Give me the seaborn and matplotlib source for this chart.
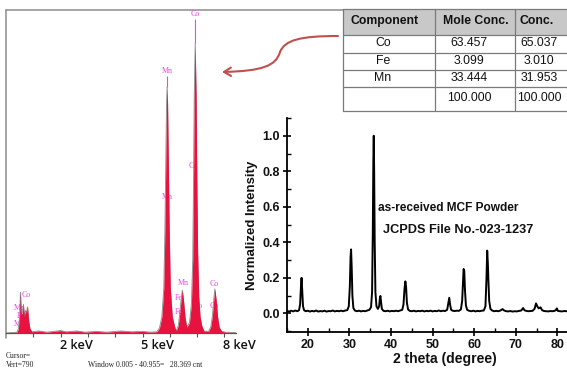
import matplotlib
matplotlib.use("Agg")
import matplotlib.pyplot as plt
import matplotlib.transforms as mtransforms
from matplotlib.path import Path
from matplotlib.patches import FancyArrowPatch, Rectangle
from matplotlib.ticker import MultipleLocator
import seaborn as sns

sns.set_theme(style="white")
plt.rcParams['font.family'] = ['Liberation Sans', 'DejaVu Sans']

# ---------------- EDS spectrum (energy in keV, counts) ----------------
eds_kev = [0.00, 0.40, 0.45, 0.50, 0.53, 0.56, 0.60, 0.64, 0.67, 0.71, 0.75, 0.79, 0.83, 0.88, 0.95,
           1.20, 1.50, 2.00, 2.20, 2.60, 2.90, 3.30, 3.70, 4.20, 4.60, 5.00, 5.30,
           5.52, 5.62, 5.71, 5.78, 5.82, 5.855, 5.88, 5.90, 5.92, 5.945, 5.98, 6.02, 6.09, 6.19,
           6.24, 6.31, 6.36, 6.41, 6.46, 6.51, 6.56, 6.62,
           6.72, 6.79, 6.84, 6.87, 6.895, 6.93, 6.965, 6.99, 7.02, 7.06, 7.11, 7.17, 7.25,
           7.42, 7.50, 7.56, 7.61, 7.65, 7.70, 7.75, 7.81, 7.90, 8.05, 8.42]
eds_cnt = [0, 2, 10, 40, 100, 45, 50, 70, 40, 55, 50, 64, 30, 10, 3,
           5, 2, 6, 3, 5, 2, 4, 2, 5, 3, 4, 2,
           3, 12, 40, 110, 250, 430, 560, 602, 560, 430, 250, 110, 40, 12,
           6, 18, 45, 80, 105, 75, 38, 14,
           25, 70, 180, 380, 580, 709, 580, 380, 200, 90, 40, 18, 5,
           4, 15, 42, 82, 108, 80, 40, 14, 4, 2, 1]

# element markers: text, energy, count level of the label
eds_mark_text = ["Co", "Mn", "Co", "Mn", "Mn", "Fe", "Fe", "Co", "Co", "Co", "Fe", "Co", "Mn", "Fe", "Mn"]
eds_mark_kev = [6.93, 5.90, 6.87, 5.90, 6.50, 6.32, 6.32, 7.62, 7.62, 7.03, 7.03, 0.76, 0.47, 0.53, 0.47]
eds_mark_cnt = [780, 641, 408, 333, 122, 86, 51, 120, 66, 66, 27, 93, 61, 42, 22]
# marker stems joining a label to its peak top: energy, lower count, upper count
stem_kev = [6.93, 5.90, 0.53]
stem_low = [709, 602, 0]
stem_high = [768, 628, 100]

eds_tick_kev = [2, 5, 8]
cursor_lines = ["Cursor=", "Vert=790"]
window_text = "Window 0.005 - 40.955=   28.369 cnt"

# ---------------- Composition table ----------------
table_header = ["Component", "Mole Conc.", "Conc."]
components = ["Co", "Fe", "Mn", ""]
mole_conc = ["63.457", "3.099", "33.444", "100.000"]
conc = ["65.037", "3.010", "31.953", "100.000"]

# ---------------- XRD pattern ----------------
xrd_two_theta = [15.0, 15.5, 16.0, 16.5, 17.0, 17.5, 17.9, 18.15, 18.35, 18.5, 18.65, 18.85, 19.1, 19.5,
                 20.0, 20.5, 21.0, 21.5, 22.0, 22.5, 23.0, 23.5, 24.0, 24.5, 25.0, 25.5, 26.0, 26.5,
                 27.0, 27.5, 28.0, 28.5, 29.0, 29.5, 29.85, 30.1, 30.28, 30.4, 30.55, 30.72, 30.95,
                 31.3, 31.8, 32.3, 32.8, 33.3, 33.8, 34.3, 34.8, 35.2, 35.45, 35.62, 35.75, 35.85,
                 35.95, 36.08, 36.25, 36.5, 36.85, 37.15, 37.32, 37.45, 37.58, 37.8, 38.2, 38.7,
                 39.2, 39.7, 40.2, 40.7, 41.2, 41.7, 42.2, 42.7, 43.0, 43.25, 43.45, 43.62, 43.82,
                 44.1, 44.5, 45.0, 45.5, 46.0, 46.5, 47.0, 47.5, 48.0, 48.5, 49.0, 49.5, 50.0, 50.5,
                 51.0, 51.5, 52.0, 52.5, 53.0, 53.5, 53.8, 54.0, 54.2, 54.45, 54.8, 55.3, 55.8, 56.3,
                 56.8, 57.1, 57.3, 57.45, 57.6, 57.78, 58.0, 58.3, 58.8, 59.3, 59.8, 60.3, 60.8,
                 61.3, 61.8, 62.3, 62.7, 62.95, 63.12, 63.28, 63.4, 63.6, 63.9, 64.3, 64.8, 65.3,
                 65.8, 66.3, 66.8, 67.2, 67.7, 68.2, 68.7, 69.2, 69.7, 70.2, 70.7, 71.3, 71.75,
                 72.1, 72.5, 73.0, 73.5, 74.0, 74.5, 74.85, 75.15, 75.5, 75.95, 76.3, 76.8, 77.3,
                 77.8, 78.3, 78.8, 79.3, 79.6, 79.85, 80.1, 80.6, 81.1, 81.6, 82.3]
xrd_intensity = [0.014, 0.010, 0.015, 0.011, 0.016, 0.012, 0.018, 0.05, 0.15, 0.20, 0.13, 0.04, 0.018, 0.012,
                 0.015, 0.010, 0.014, 0.011, 0.016, 0.010, 0.013, 0.011, 0.015, 0.010, 0.013, 0.012, 0.016, 0.011,
                 0.014, 0.012, 0.015, 0.012, 0.016, 0.018, 0.04, 0.15, 0.32, 0.36, 0.26, 0.10, 0.03,
                 0.016, 0.012, 0.015, 0.011, 0.014, 0.012, 0.016, 0.020, 0.035, 0.12, 0.45, 0.85, 1.00,
                 0.80, 0.40, 0.12, 0.04, 0.025, 0.04, 0.085, 0.098, 0.07, 0.025, 0.014, 0.012,
                 0.015, 0.011, 0.014, 0.012, 0.015, 0.012, 0.016, 0.020, 0.05, 0.14, 0.18, 0.15, 0.06,
                 0.022, 0.014, 0.012, 0.015, 0.011, 0.014, 0.012, 0.015, 0.011, 0.014, 0.012, 0.015, 0.011, 0.014,
                 0.012, 0.016, 0.012, 0.015, 0.013, 0.020, 0.06, 0.088, 0.05, 0.020, 0.015, 0.013, 0.015, 0.014,
                 0.022, 0.07, 0.18, 0.25, 0.24, 0.13, 0.045, 0.020, 0.014, 0.012, 0.015, 0.011, 0.014,
                 0.012, 0.015, 0.016, 0.04, 0.20, 0.353, 0.28, 0.19, 0.07, 0.025, 0.016, 0.012, 0.014,
                 0.012, 0.016, 0.024, 0.016, 0.012, 0.011, 0.013, 0.010, 0.012, 0.011, 0.013, 0.016, 0.03,
                 0.017, 0.014, 0.012, 0.013, 0.014, 0.025, 0.056, 0.04, 0.028, 0.034, 0.018, 0.013, 0.012,
                 0.011, 0.013, 0.012, 0.014, 0.018, 0.028, 0.014, 0.012, 0.011, 0.013, 0.012]
xrd_xticks = [20, 30, 40, 50, 60, 70, 80]
xrd_yticks = [0.0, 0.2, 0.4, 0.6, 0.8, 1.0]

# ---------------- Figure ----------------
W, H = 567, 370
fig = plt.figure(figsize=(W / 100, H / 100), dpi=100)
fig.patch.set_facecolor("white")


def px_box(left, top, right, bottom):
    return [left / W, 1 - bottom / H, (right - left) / W, (bottom - top) / H]


# pixel-space layer for frames, table and arrow
overlay = fig.add_axes([0, 0, 1, 1], zorder=0)
overlay.set_xlim(0, W)
overlay.set_ylim(H, 0)
overlay.axis("off")

# ---- EDS panel ----
KEV_PX = 27.3
ax_eds = fig.add_axes(px_box(6, 10, 236, 333), zorder=1)
ax_eds.patch.set_alpha(0)
ax_eds.set_xlim(0, 230 / KEV_PX)
ax_eds.set_ylim(0, 790)
magenta = "#ee44ee"
for txt, e, c in zip(eds_mark_text, eds_mark_kev, eds_mark_cnt):
    ax_eds.text(e, c, txt, color=magenta, fontsize=5.8, family="Liberation Serif",
                ha="center", va="center", zorder=2)
ax_eds.vlines(stem_kev, stem_low, stem_high, color=magenta, lw=0.8, zorder=2)
sns.lineplot(x=eds_kev, y=eds_cnt, ax=ax_eds, color="#8a8a8a", lw=0.6,
             estimator=None, sort=False, zorder=3)
ax_eds.fill_between(eds_kev, eds_cnt, color="#e8123f", lw=0, zorder=4)
for s in ["top", "right", "left"]:
    ax_eds.spines[s].set_visible(False)
ax_eds.spines["bottom"].set_color("#555555")
ax_eds.spines["bottom"].set_linewidth(0.9)
ax_eds.set_xticks(range(1, 9))
ax_eds.set_yticks([])
ax_eds.tick_params(axis="x", direction="out", length=3, width=0.8, color="#555555",
                   labelbottom=False, bottom=True)
blend = mtransforms.blended_transform_factory(ax_eds.transData, ax_eds.transAxes)
for v in eds_tick_kev:
    ax_eds.text(v - 0.04, -0.040, f"{v} keV", transform=blend, ha="left", va="center",
                family="Open Sans", fontweight="semibold", fontsize=9.2, color="#111111")

overlay.plot([6, 343], [10, 10], color="#8c8c8c", lw=1.1)
overlay.plot([6, 6], [10, 338], color="#8c8c8c", lw=1.1)
overlay.text(6, 356, cursor_lines[0], fontsize=5.5, family="Liberation Serif", va="center", color="#222222")
overlay.text(6, 365, cursor_lines[1], fontsize=5.5, family="Liberation Serif", va="center", color="#222222")
overlay.text(88, 365, window_text, fontsize=5.5, family="Liberation Serif", va="center", color="#222222")

# ---- composition table ----
col_x = [343, 435, 515, 600]
row_y = [9, 35, 52.5, 69.5, 87, 111]
overlay.add_patch(Rectangle((col_x[0], row_y[0]), col_x[-1] - col_x[0], row_y[1] - row_y[0],
                            facecolor="#c8c8c8", edgecolor="none"))
for y in row_y:
    overlay.plot([col_x[0], col_x[-1]], [y, y], color="#7a7a7a", lw=0.9)
for x in col_x[:3]:
    overlay.plot([x, x], [row_y[0], row_y[-1]], color="#7a7a7a", lw=0.9)
head_cx = [385, 476, 537]
val_cx = [383, 469, 539]
for cx, txt in zip(head_cx, table_header):
    overlay.text(cx, 21, txt, ha="center", va="center", fontsize=8.8, fontweight="bold", color="#111111")
row_cy = [43.5, 61, 78, 98]
for cy, a, b, c in zip(row_cy, components, mole_conc, conc):
    overlay.text(val_cx[0], cy, a, ha="center", va="center", fontsize=8.8, color="#111111")
    overlay.text(val_cx[1], cy, b, ha="center", va="center", fontsize=8.8, color="#111111")
    overlay.text(val_cx[2], cy, c, ha="center", va="center", fontsize=8.8, color="#111111")

# ---- curved pointer from table to spectrum ----
arrow_path = Path([(338, 36), (300, 36), (285, 40), (280, 52), (276, 66), (262, 71), (222, 72)],
                  [Path.MOVETO, Path.CURVE4, Path.CURVE4, Path.CURVE4, Path.CURVE4, Path.CURVE4, Path.CURVE4])
overlay.add_patch(FancyArrowPatch(path=arrow_path, arrowstyle="->,head_length=5,head_width=3",
                                  color="#c0504d", lw=1.5, transform=overlay.transData))

# ---- XRD panel ----
ax_x = fig.add_axes(px_box(287, 118, 567, 332), zorder=2)
ax_x.patch.set_alpha(0)
sns.lineplot(x=xrd_two_theta, y=xrd_intensity, ax=ax_x, color="black", lw=1.4,
             estimator=None, sort=False)
ax_x.set_xlim(15, 82.3)
ax_x.set_ylim(-0.105, 1.10)
for s in ["top", "right"]:
    ax_x.spines[s].set_visible(False)
for s in ["left", "bottom"]:
    ax_x.spines[s].set_color("black")
    ax_x.spines[s].set_linewidth(1.3)
ax_x.set_xticks(xrd_xticks, [str(t) for t in xrd_xticks], fontweight="bold", fontsize=9)
ax_x.set_yticks(xrd_yticks, [f"{t:.1f}" for t in xrd_yticks], fontweight="bold", fontsize=9)
ax_x.xaxis.set_minor_locator(MultipleLocator(5))
ax_x.yaxis.set_minor_locator(MultipleLocator(0.1))
ax_x.tick_params(which="major", direction="inout", length=6, width=1.2, color="black",
                 pad=2, labelcolor="#111111", bottom=True, left=True)
ax_x.tick_params(which="minor", direction="in", length=3, width=1.0, color="black",
                 bottom=True, left=True)
ax_x.set_xlabel("")
ax_x.set_ylabel("")
ax_x.text(0.564, -0.126, "2 theta (degree)", transform=ax_x.transAxes, ha="center", va="center",
          fontsize=10, fontweight="bold", color="#111111")
ax_x.text(-0.125, 0.5, "Normalized Intensity", transform=ax_x.transAxes, ha="center", va="center",
          rotation=90, fontsize=9.5, fontweight="bold", color="#111111")
ax_x.text(0.325, 0.581, "as-received MCF Powder", transform=ax_x.transAxes, ha="left", va="center",
          fontsize=8.6, fontweight="bold", color="#111111")
ax_x.text(0.343, 0.477, "JCPDS File No.-023-1237", transform=ax_x.transAxes, ha="left", va="center",
          fontsize=9.2, fontweight="bold", color="#111111")

fig.savefig("out.png", dpi=100, facecolor="white")
